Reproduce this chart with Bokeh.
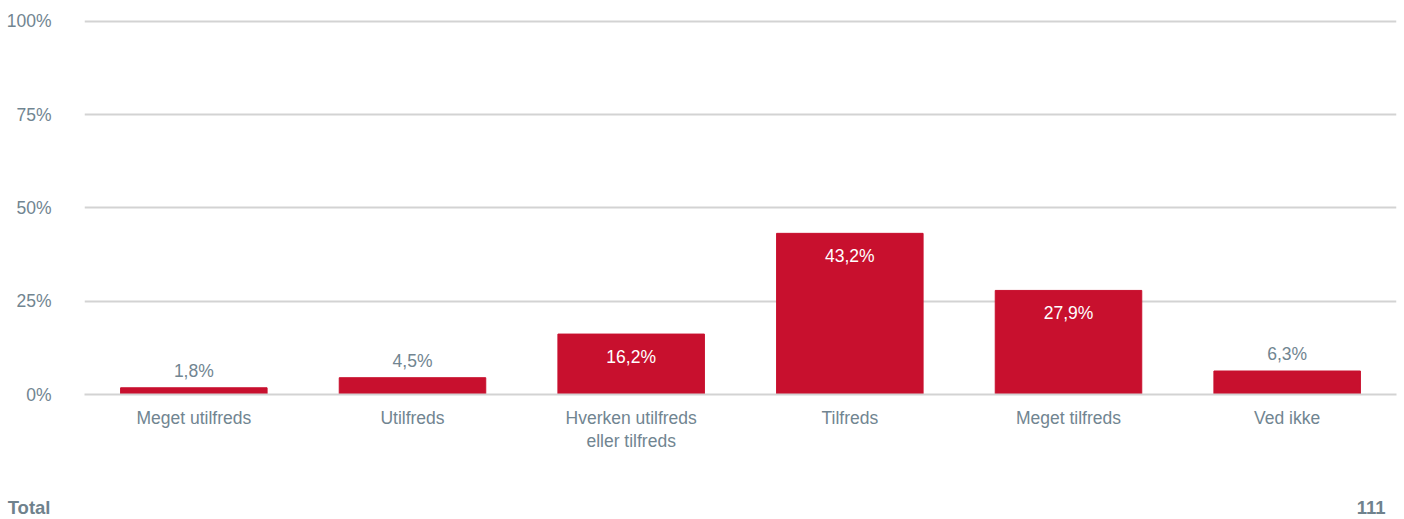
from bokeh.plotting import figure
from bokeh.models import ColumnDataSource, FixedTicker, Range1d
from bokeh.layouts import column
from bokeh.core.properties import value
from bokeh.embed import file_html
from bokeh.resources import INLINE

categories = ["Meget utilfreds", "Utilfreds", "Hverken utilfreds\neller tilfreds",
              "Tilfreds", "Meget tilfreds", "Ved ikke"]
percent = [1.8, 4.5, 16.2, 43.2, 27.9, 6.3]
y_ticks = [0, 25, 50, 75, 100]
total_label = "Total"
total_n = 111

FONT = "Liberation Sans"
GREY = "#718591"
RED = "#c8102e"
FOOT = "#6f828d"

p = figure(x_range=categories, y_range=Range1d(0, 100.8), width=1404, height=480,
           output_backend="svg", toolbar_location=None,
           min_border_left=84, min_border_right=8, min_border_top=18, min_border_bottom=86)
p.outline_line_color = None
p.background_fill_color = None

p.vbar(x=categories, top=percent, width=0.67, color=RED)

inside = [v >= 10 for v in percent]
lab_txt = [f"{v:.1f}%".replace(".", ",") for v in percent]
src_in = ColumnDataSource(dict(x=[c for c, i in zip(categories, inside) if i],
                               y=[v for v, i in zip(percent, inside) if i],
                               t=[t for t, i in zip(lab_txt, inside) if i]))
src_out = ColumnDataSource(dict(x=[c for c, i in zip(categories, inside) if not i],
                                y=[v for v, i in zip(percent, inside) if not i],
                                t=[t for t, i in zip(lab_txt, inside) if not i]))
p.text(x="x", y="y", text="t", source=src_in, text_color="white", text_align="center",
       text_baseline="middle", y_offset=23, text_font=value(FONT), text_font_size="17.5px")
p.text(x="x", y="y", text="t", source=src_out, text_color=GREY, text_align="center",
       text_baseline="middle", y_offset=-17, text_font=value(FONT), text_font_size="17.5px")

p.yaxis.ticker = FixedTicker(ticks=y_ticks)
p.yaxis.major_label_overrides = {t: f"{t}%" for t in y_ticks}
p.yaxis.axis_line_color = None
p.yaxis.major_tick_line_color = None
p.yaxis.minor_tick_line_color = None
p.yaxis.major_label_standoff = 27
p.yaxis.major_label_text_font = FONT
p.yaxis.major_label_text_font_size = "17.5px"
p.yaxis.major_label_text_color = GREY

p.xaxis.axis_line_color = "#d3d3d3"
p.xaxis.axis_line_width = 2
p.xaxis.major_tick_line_color = None
p.xaxis.minor_tick_line_color = None
p.xaxis.major_label_standoff = 7
p.xaxis.major_label_text_font = FONT
p.xaxis.major_label_text_font_size = "17.5px"
p.xaxis.major_label_text_color = GREY
p.xaxis.major_label_text_line_height = 1.15

p.xgrid.grid_line_color = None
p.ygrid.grid_line_color = "#d3d3d3"
p.ygrid.grid_line_width = 2

# footer strip: frame aligned with the main plot (84..1396), "Total" as its y-axis label
q = figure(width=1404, height=39, x_range=Range1d(84, 1396), y_range=Range1d(0, 39),
           output_backend="svg", toolbar_location=None, x_axis_location=None,
           min_border_left=84, min_border_right=8, min_border_top=0, min_border_bottom=0)
q.grid.visible = False
q.outline_line_color = None
q.background_fill_color = None
q.yaxis.ticker = FixedTicker(ticks=[12])
q.yaxis.major_label_overrides = {12: total_label}
q.yaxis.axis_line_color = None
q.yaxis.major_tick_line_color = None
q.yaxis.minor_tick_line_color = None
q.yaxis.major_label_standoff = 28
q.yaxis.major_label_text_font = FONT
q.yaxis.major_label_text_font_size = "18.5px"
q.yaxis.major_label_text_font_style = "bold"
q.yaxis.major_label_text_color = FOOT
foot = ColumnDataSource(dict(x=[1385], y=[12], t=[str(total_n)]))
q.text(x="x", y="y", text="t", text_align="right", source=foot, text_baseline="middle",
       text_font=value(FONT), text_font_size="18.5px", text_font_style="bold",
       text_color=FOOT)

open("out.html", "w").write(file_html(column(p, q, spacing=0), INLINE))
